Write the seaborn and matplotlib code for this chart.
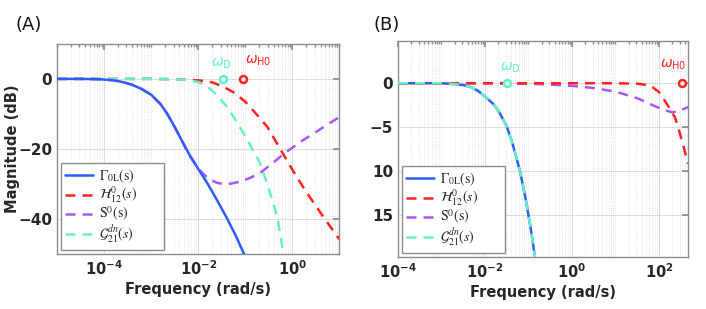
import numpy as np
import pandas as pd
import matplotlib
matplotlib.use("Agg")
import matplotlib.pyplot as plt
import seaborn as sns
from matplotlib.ticker import LogLocator, FixedLocator, NullFormatter, FuncFormatter

# ---------------- data ----------------
# Panel A : log10(frequency) and magnitude in dB
a_gam_logf = [-5.0, -4.5, -4.1, -3.8, -3.6, -3.4, -3.2, -3.0, -2.8, -2.66, -2.5, -2.38,
              -2.2, -2.0, -1.8, -1.6, -1.4, -1.2, -1.0]
a_gam_db = [0.0, 0.0, -0.1, -0.4, -0.9, -1.7, -2.9, -4.5, -7.2, -9.9, -13.7, -16.8,
            -21.3, -25.7, -29.9, -34.6, -39.5, -44.8, -50.8]

a_h12_logf = [-5.0, -3.0, -2.5, -2.0, -1.7, -1.5, -1.25, -1.0, -0.8, -0.53, -0.21, 0.0,
              0.23, 0.45, 0.66, 0.85, 1.0]
a_h12_db = [0.0, 0.0, -0.1, -0.4, -1.0, -2.0, -3.8, -6.5, -9.5, -13.7, -21.1, -25.9,
            -30.9, -35.3, -39.4, -43.0, -45.8]

a_s0_logf = [-5.0, -4.5, -4.1, -3.8, -3.6, -3.4, -3.2, -3.0, -2.8, -2.66, -2.5, -2.38,
             -2.2, -2.0, -1.8, -1.6, -1.45, -1.3, -1.1, -0.9, -0.68, -0.45, -0.2, 0.17,
             0.5, 0.75, 1.0]
a_s0_db = [0.0, 0.0, -0.1, -0.4, -0.9, -1.7, -2.9, -4.5, -7.2, -9.9, -13.7, -16.8,
           -21.6, -25.6, -28.3, -29.7, -30.0, -29.9, -29.3, -28.3, -26.8, -24.4, -21.6, -18.0,
           -15.2, -13.0, -10.9]

a_g21_logf = [-5.0, -3.0, -2.5, -2.2, -2.0, -1.8, -1.6, -1.4, -1.2, -1.0, -0.85, -0.68,
              -0.5, -0.32, -0.19, -0.15]
a_g21_db = [0.0, 0.0, -0.1, -0.4, -0.9, -2.2, -4.6, -7.8, -11.8, -16.4, -20.0, -24.2,
            -31.3, -39.4, -49.7, -53.0]

# Panel B
b_gam_logf = [-4.0, -3.5, -3.0, -2.7, -2.5, -2.32, -2.15, -1.98, -1.8, -1.66, -1.5,
              -1.36, -1.2, -1.06, -0.95, -0.85, -0.8]
b_gam_db = [0.0, 0.0, 0.0, -0.1, -0.2, -0.45, -0.9, -1.6, -2.4, -3.4, -4.9,
            -7.0, -9.9, -13.3, -16.5, -19.8, -21.5]
b_g21_logf = b_gam_logf
b_g21_db = b_gam_db

b_h12_logf = [-4.0, 0.0, 1.0, 1.5, 1.8, 2.0, 2.2, 2.37, 2.48, 2.58, 2.67]
b_h12_db = [0.0, 0.0, 0.0, -0.05, -0.25, -1.0, -2.5, -3.9, -5.7, -7.5, -9.2]

b_s0_logf = [-4.0, -2.0, -1.0, -0.5, 0.0, 0.5, 1.0, 1.5, 1.9, 2.15, 2.3, 2.45, 2.67]
b_s0_db = [0.0, 0.0, -0.05, -0.15, -0.3, -0.55, -0.95, -1.7, -2.6, -3.1, -3.3, -3.2, -2.7]

# characteristic frequencies (log10) marked at 0 dB
a_wd_logf, a_wh_logf = -1.47, -1.04
b_wd_logf, b_wh_logf = -1.5, 2.53

legend_labels = [r'$\Gamma_{\mathrm{0L}}(\mathrm{s})$', r'$\mathcal{H}_{12}^{0}(s)$',
                 r'$\mathrm{S}^{0}(\mathrm{s})$', r'$\mathcal{G}_{21}^{dn}(s)$']

# ---------------- style ----------------
sns.set_theme(style="white")
plt.rcParams['font.family'] = ['DejaVu Sans']
plt.rcParams['mathtext.fontset'] = 'dejavusans'

C_BLUE = '#2f5cf5'
C_RED = '#ff2222'
C_PURP = '#a857f5'
C_CYAN = '#66f0c8'
GRAY = '#8c8c8c'
TXT = '#262626'

fig = plt.figure(figsize=(7.06, 3.09), dpi=100)
axA = fig.add_axes([0.0807, 0.178, 0.400, 0.680])
axB = fig.add_axes([0.5637, 0.168, 0.411, 0.699])

DASH = (4, 2.8)


def df(logf, db):
    return pd.DataFrame({'f': 10.0 ** np.asarray(logf, float), 'db': db})


def draw(ax, curves, zorders):
    lw = 1.8
    specs = [('gam', C_BLUE, None), ('h12', C_RED, DASH),
             ('s0', C_PURP, DASH), ('g21', C_CYAN, DASH)]
    for (key, col, dash), lab, z in zip(specs, legend_labels, zorders):
        sns.lineplot(data=df(*curves[key]), x='f', y='db', ax=ax, color=col, lw=lw,
                     sort=False, label=lab, zorder=z)
        if dash is not None:
            ax.lines[-1].set_dashes(dash)


draw(axA, {'gam': (a_gam_logf, a_gam_db), 'h12': (a_h12_logf, a_h12_db),
           's0': (a_s0_logf, a_s0_db), 'g21': (a_g21_logf, a_g21_db)},
     zorders=[2.6, 2.3, 2.2, 2.4])
draw(axB, {'gam': (b_gam_logf, b_gam_db), 'h12': (b_h12_logf, b_h12_db),
           's0': (b_s0_logf, b_s0_db), 'g21': (b_g21_logf, b_g21_db)},
     zorders=[2.2, 2.4, 2.3, 2.6])


def bold_pow(v, pos):
    e = int(round(np.log10(v)))
    return r'$\mathbf{10^{%d}}$' % e


for ax in (axA, axB):
    ax.set_xscale('log')
    ax.xaxis.set_minor_locator(LogLocator(base=10, subs=np.arange(1, 10), numticks=30))
    ax.xaxis.set_minor_formatter(NullFormatter())
    ax.grid(True, which='major', color='#dcdcdc', lw=0.7)
    ax.grid(True, which='minor', axis='x', color='#dedede', lw=0.6, ls=':')
    for s in ax.spines.values():
        s.set_color(GRAY)
        s.set_linewidth(1.0)
    ax.tick_params(which='both', direction='in', top=True, right=True, color=GRAY,
                   labelcolor=TXT)
    ax.tick_params(which='major', length=4, labelsize=10.5)
    ax.tick_params(which='minor', length=2.2)
    ax.set_xlabel('Frequency (rad/s)', fontsize=10.5, fontweight='bold', color=TXT,
                  labelpad=3)
    ax.set_ylabel('')
    ax.xaxis.set_major_formatter(FuncFormatter(bold_pow))
    leg = ax.legend(loc='lower left', fontsize=10, frameon=True, fancybox=False,
                    framealpha=1, edgecolor=GRAY, borderaxespad=0.3, handlelength=2.0,
                    labelspacing=0.0, borderpad=0.3, handletextpad=0.45)
    leg.get_frame().set_linewidth(1.0)
    for t in leg.get_texts():
        t.set_math_fontfamily('stix')
        t.set_text(t.get_text() + '      ')

# panel A axes
axA.set_xlim(1e-5, 10)
axA.set_ylim(-50, 10)
axA.xaxis.set_major_locator(FixedLocator([1e-4, 1e-2, 1e0]))
axA.set_yticks([0, -20, -40])
axA.set_yticklabels(['0', '\u221220', '\u221240'], fontweight='bold', fontsize=11)
axA.set_ylabel('Magnitude (dB)', fontsize=10.5, fontweight='bold', color=TXT)
axA.yaxis.set_label_coords(-0.13, 0.5)

# panel B axes
axB.set_xlim(1e-4, 10 ** 2.67)
axB.set_ylim(-19.8, 4.8)
axB.xaxis.set_major_locator(FixedLocator([1e-4, 1e-2, 1e0, 1e2]))
axB.set_yticks([0, -5, -10, -15])
axB.set_yticklabels(['0', '\u22125', '10', '15'], fontweight='bold', fontsize=11)

# characteristic-frequency markers
for ax, wd, wh, dd, dh in ((axA, a_wd_logf, a_wh_logf, (-9, 6), (1, 8)),
                           (axB, b_wd_logf, b_wh_logf, (-5, 6), (-16, 8))):
    ax.plot([10 ** wd], [0], 'o', ms=5, mfc='white', mec=C_CYAN, mew=1.8, zorder=5)
    ax.plot([10 ** wh], [0], 'o', ms=5, mfc='white', mec=C_RED, mew=1.8, zorder=5)
    ax.annotate(r'$\omega_{\mathrm{D}}$', (10 ** wd, 0), xytext=dd,
                textcoords='offset points', color=C_CYAN, fontsize=10,
                ha='left', va='bottom')
    ax.annotate(r'$\omega_{\mathrm{H0}}$', (10 ** wh, 0), xytext=dh,
                textcoords='offset points', color=C_RED, fontsize=10,
                ha='left', va='bottom')

fig.text(0.022, 0.92, '(A)', fontsize=13, va='center', ha='left', color='#111111')
fig.text(0.529, 0.92, '(B)', fontsize=13, va='center', ha='left', color='#111111')

fig.savefig('out.png', dpi=100)
